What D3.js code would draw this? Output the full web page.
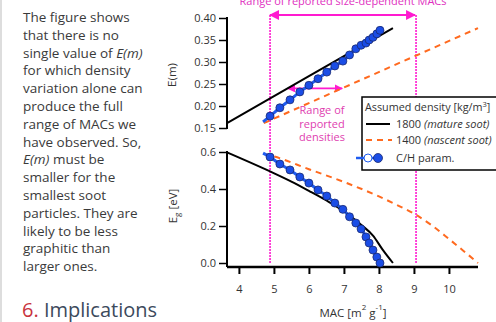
<!DOCTYPE html>
<html>
<head>
<meta charset="utf-8">
<script src="https://cdn.jsdelivr.net/npm/d3@7"></script>
<style>
  body { margin: 0; background: #fff; }
  text { font-family: "Open Sans", "Noto Sans", sans-serif; }
</style>
</head>
<body>
<div id="chart-area"></div>
<script>
// ---- data ----
var xTicks = [4, 5, 6, 7, 8, 9, 10];
var emTicks = [0.15, 0.20, 0.25, 0.30, 0.35, 0.40];
var egTicks = [0.0, 0.2, 0.4, 0.6];

// density 1800 (mature soot)
var matureEmMac = [3.66, 6.0, 8.4];
var matureEm = [0.161, 0.268, 0.377];
var matureEgMac = [3.66, 4.89, 5.5, 6.0, 6.5, 7.0, 7.5, 7.83, 8.1, 8.4];
var matureEg = [0.598, 0.495, 0.44, 0.39, 0.338, 0.28, 0.205, 0.148, 0.074, 0.0];

// density 1400 (nascent soot)
var nascentEmMac = [4.71, 7.0, 10.83];
var nascentEm = [0.161, 0.242, 0.377];
var nascentEgMac = [4.71, 5.0, 6.0, 7.0, 8.0, 8.5, 9.06, 9.5, 10.0, 10.4, 10.83];
var nascentEg = [0.59, 0.576, 0.507, 0.438, 0.36, 0.315, 0.26, 0.205, 0.13, 0.068, 0.0];

// C/H parametrisation
var chMac = [4.89, 5.17, 5.46, 5.74, 6.0, 6.26, 6.51, 6.74, 6.97, 7.16, 7.34, 7.49, 7.63, 7.72, 7.83, 7.94, 8.03];
var chEm  = [0.177, 0.196, 0.214, 0.232, 0.247, 0.262, 0.277, 0.291, 0.302, 0.316, 0.33, 0.338, 0.343, 0.35, 0.356, 0.364, 0.372];
var chEg  = [0.573, 0.535, 0.503, 0.465, 0.432, 0.395, 0.362, 0.324, 0.29, 0.25, 0.216, 0.184, 0.141, 0.108, 0.07, 0.032, 0.0];
var chLineEmEnds = [[4.69, 0.164], [8.09, 0.38]];
var chLineEgStart = [4.69, 0.594];

// reported ranges
var macRange = [4.89, 9.06];
var densityRangeEm = 0.24;
var densityRangeMac = [5.4, 6.95];

var paragraph = [
  ["The figure shows"],
  ["that there is no"],
  ["single value of ", "E(m)"],
  ["for which density"],
  ["variation alone can"],
  ["produce the full"],
  ["range of MACs we"],
  ["have observed. So,"],
  ["", "E(m)", " must be"],
  ["smaller for the"],
  ["smallest soot"],
  ["particles. They are"],
  ["likely to be less"],
  ["graphitic than"],
  ["larger ones."]
];

// ---- drawing ----
var W = 496, H = 322;
var svg = d3.select("#chart-area")
  .append("svg")
  .attr("width", W)
  .attr("height", H);

var magenta = "#ff1ad0";
var blue = "#1f5cf0";
var orange = "#ff6a1f";

var x = d3.scaleLinear().domain([3.66, 10.83]).range([227, 478]);
var yTop = d3.scaleLinear().domain([0.15, 0.40]).range([128, 18]);
var yBot = d3.scaleLinear().domain([0, 0.6]).range([263, 152]);

// left side border + text
svg.append("line").attr("x1", 1).attr("x2", 1).attr("y1", 0).attr("y2", H)
  .attr("stroke", "#ddd").attr("stroke-width", 2);

var para = svg.append("g");
paragraph.forEach((parts, i) => {
  var t = para.append("text")
    .attr("x", 23).attr("y", 22 + i * 17.8)
    .attr("font-size", 13.5).attr("fill", "#3a3a3a");
  parts.forEach((p, j) => {
    t.append("tspan").text(p).attr("font-style", j % 2 == 1 ? "italic" : null);
  });
});

var head = svg.append("text").attr("x", 22).attr("y", 317).attr("font-size", 20);
head.append("tspan").text("6.").attr("fill", "#c8323c");
head.append("tspan").text(" Implications").attr("fill", "#3c4a5c");

// axes
function styleAxis(g) {
  g.selectAll("text").attr("font-size", 11).attr("fill", "#333")
    .style("font-family", "'Open Sans', sans-serif");
  g.selectAll("line").attr("stroke", "#000").attr("stroke-width", 1.5);
  g.select(".domain").remove();
}

var axTop = svg.append("g").attr("transform", "translate(227,0)")
  .call(d3.axisLeft(yTop).tickValues(emTicks).tickFormat(d3.format(".2f")).tickSize(8).tickPadding(3));
styleAxis(axTop);
svg.append("line").attr("x1", 227).attr("x2", 227).attr("y1", yTop(0.40) - 1).attr("y2", yTop(0.15) + 1)
  .attr("stroke", "#000").attr("stroke-width", 2);

var axBot = svg.append("g").attr("transform", "translate(227,0)")
  .call(d3.axisLeft(yBot).tickValues(egTicks).tickFormat(d3.format(".1f")).tickSize(8).tickPadding(3));
styleAxis(axBot);
svg.append("line").attr("x1", 227).attr("x2", 227).attr("y1", yBot(0.6) - 1).attr("y2", 267)
  .attr("stroke", "#000").attr("stroke-width", 2);

var axX = svg.append("g").attr("transform", "translate(0,267)")
  .call(d3.axisBottom(x).tickValues(xTicks).tickFormat(d3.format("d")).tickSize(7).tickPadding(11));
styleAxis(axX);
axX.selectAll("line").attr("stroke-width", 2);
svg.append("line").attr("x1", x.range()[0]).attr("x2", x.range()[1]).attr("y1", 267).attr("y2", 267)
  .attr("stroke", "#000").attr("stroke-width", 2.5);

// axis titles
svg.append("text").attr("transform", "translate(176,75) rotate(-90)")
  .attr("text-anchor", "middle").attr("font-size", 11.5).attr("fill", "#333").text("E(m)");
var egTitle = svg.append("text").attr("transform", "translate(177,206) rotate(-90)")
  .attr("text-anchor", "middle").attr("font-size", 11.5).attr("fill", "#333");
egTitle.append("tspan").text("E");
egTitle.append("tspan").text("g").attr("font-size", 8).attr("dy", 3);
egTitle.append("tspan").text(" [eV]").attr("dy", -3);

var xTitle = svg.append("text").attr("x", 353).attr("y", 317)
  .attr("text-anchor", "middle").attr("font-size", 11.5).attr("fill", "#333");
xTitle.append("tspan").text("MAC [m");
xTitle.append("tspan").text("2").attr("font-size", 8).attr("dy", -7);
xTitle.append("tspan").text(" g").attr("dy", 7);
xTitle.append("tspan").text("-1").attr("font-size", 8).attr("dy", -7);
xTitle.append("tspan").text("]").attr("dy", 7);

// magenta range markers
svg.selectAll(".vrange").data(macRange).enter().append("line")
  .attr("x1", d => x(d)).attr("x2", d => x(d))
  .attr("y1", 15).attr("y2", yBot(0))
  .attr("stroke", magenta).attr("stroke-width", 1.6).attr("stroke-dasharray", "2,1");

var defs = svg.append("defs");
defs.append("marker").attr("id", "arr").attr("viewBox", "0 0 10 10")
  .attr("refX", 9).attr("refY", 5).attr("markerWidth", 5).attr("markerHeight", 5)
  .attr("orient", "auto-start-reverse")
  .append("path").attr("d", "M0,0L10,5L0,10z").attr("fill", magenta);

svg.append("line").attr("x1", x(macRange[0])).attr("x2", x(macRange[1]) - 1)
  .attr("y1", 15).attr("y2", 15)
  .attr("stroke", magenta).attr("stroke-width", 2)
  .attr("marker-start", "url(#arr)").attr("marker-end", "url(#arr)");
svg.append("text").attr("x", x(d3.mean(macRange))).attr("y", 5)
  .attr("text-anchor", "middle").attr("font-size", 11).attr("fill", "#e030c0")
  .text("Range of reported size-dependent MACs");

svg.append("line").attr("x1", x(densityRangeMac[0])).attr("x2", x(densityRangeMac[1]))
  .attr("y1", yTop(densityRangeEm)).attr("y2", yTop(densityRangeEm))
  .attr("stroke", magenta).attr("stroke-width", 1.6)
  .attr("marker-start", "url(#arr)").attr("marker-end", "url(#arr)");
["Range of", "reported", "densities"].forEach((s, i) => {
  svg.append("text").attr("x", 322).attr("y", 114 + i * 13.5)
    .attr("text-anchor", "middle").attr("font-size", 11).attr("fill", "#e040b0").text(s);
});

// curves
var lineTop = d3.line().x(d => x(d[0])).y(d => yTop(d[1]));
var lineBot = d3.line().x(d => x(d[0])).y(d => yBot(d[1])).curve(d3.curveMonotoneX);

svg.append("path").datum(d3.zip(matureEmMac, matureEm)).attr("d", lineTop)
  .attr("fill", "none").attr("stroke", "#000").attr("stroke-width", 2);
svg.append("path").datum(d3.zip(matureEgMac, matureEg)).attr("d", lineBot)
  .attr("fill", "none").attr("stroke", "#000").attr("stroke-width", 2);

svg.append("path").datum(d3.zip(nascentEmMac, nascentEm)).attr("d", lineTop)
  .attr("fill", "none").attr("stroke", orange).attr("stroke-width", 2).attr("stroke-dasharray", "6,5");
svg.append("path").datum(d3.zip(nascentEgMac, nascentEg)).attr("d", lineBot)
  .attr("fill", "none").attr("stroke", orange).attr("stroke-width", 2).attr("stroke-dasharray", "6,5");

var chTop = [chLineEmEnds[0]].concat(d3.zip(chMac, chEm), [chLineEmEnds[1]]);
var chBot = [chLineEgStart].concat(d3.zip(chMac, chEg));
svg.append("path").datum(chTop).attr("d", lineTop.curve(d3.curveMonotoneX))
  .attr("fill", "none").attr("stroke", blue).attr("stroke-width", 3);
svg.append("path").datum(chBot).attr("d", lineBot)
  .attr("fill", "none").attr("stroke", blue).attr("stroke-width", 3);

svg.selectAll(".ptTop").data(d3.zip(chMac, chEm)).enter().append("circle")
  .attr("cx", d => x(d[0])).attr("cy", d => yTop(d[1])).attr("r", 4)
  .attr("fill", "#1a4de6").attr("stroke", "#1a2a70").attr("stroke-width", 0.8);
svg.selectAll(".ptBot").data(d3.zip(chMac, chEg)).enter().append("circle")
  .attr("cx", d => x(d[0])).attr("cy", d => yBot(d[1])).attr("r", 4)
  .attr("fill", "#1a4de6").attr("stroke", "#1a2a70").attr("stroke-width", 0.8);

// legend
var lg = svg.append("g");
lg.append("rect").attr("x", 362).attr("y", 97).attr("width", 150).attr("height", 73)
  .attr("fill", "#fff").attr("stroke", "#000").attr("stroke-width", 1.5);
var lt = lg.append("text").attr("x", 365).attr("y", 111).attr("font-size", 10.8).attr("fill", "#333");
lt.append("tspan").text("Assumed density [kg/m");
lt.append("tspan").text("3").attr("font-size", 7.5).attr("dy", -4);
lt.append("tspan").text("]").attr("dy", 4);

lg.append("line").attr("x1", 366).attr("x2", 390).attr("y1", 124).attr("y2", 124)
  .attr("stroke", "#000").attr("stroke-width", 2);
var r1 = lg.append("text").attr("x", 396).attr("y", 128).attr("font-size", 11).attr("fill", "#333");
r1.append("tspan").text("1800  ");
r1.append("tspan").text("(mature soot)").attr("font-style", "italic");

lg.append("line").attr("x1", 366).attr("x2", 392).attr("y1", 140).attr("y2", 140)
  .attr("stroke", orange).attr("stroke-width", 2).attr("stroke-dasharray", "6,5");
var r2 = lg.append("text").attr("x", 396).attr("y", 144).attr("font-size", 11).attr("fill", "#333");
r2.append("tspan").text("1400  ");
r2.append("tspan").text("(nascent soot)").attr("font-style", "italic");

lg.append("line").attr("x1", 356).attr("x2", 380).attr("y1", 158).attr("y2", 158)
  .attr("stroke", blue).attr("stroke-width", 2.5);
lg.append("circle").attr("cx", 368).attr("cy", 158).attr("r", 4)
  .attr("fill", "#fff").attr("stroke", blue).attr("stroke-width", 1);
lg.append("circle").attr("cx", 378).attr("cy", 158).attr("r", 4.5)
  .attr("fill", "#1a4de6").attr("stroke", "#1a2a70").attr("stroke-width", 0.8);
lg.append("text").attr("x", 396).attr("y", 162).attr("font-size", 11).attr("fill", "#333")
  .text("C/H param.");
</script>
</body>
</html>
